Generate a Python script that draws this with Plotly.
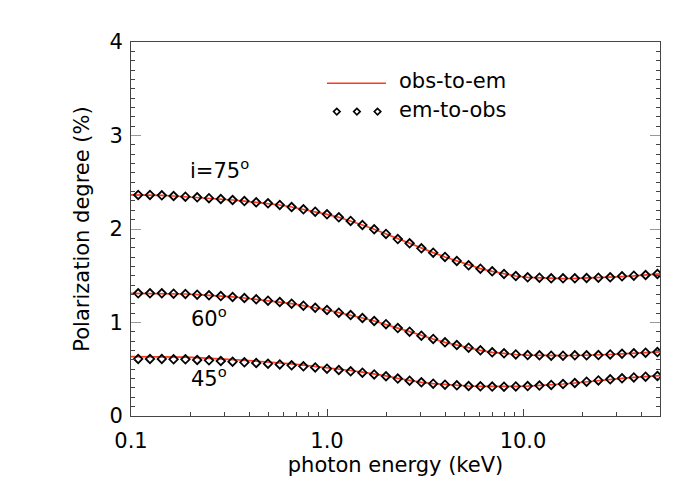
import plotly.graph_objects as go

# photon energies (keV) of the em-to-obs points
energy = [0.1088, 0.125, 0.1436, 0.1649, 0.1895, 0.2176, 0.25, 0.2872, 0.3299, 0.3789,
          0.4353, 0.5, 0.5743, 0.6598, 0.7579, 0.8706, 1.0, 1.149, 1.320, 1.516,
          1.741, 2.0, 2.297, 2.639, 3.031, 3.482, 4.0, 4.595, 5.278, 6.063,
          6.964, 8.0, 9.190, 10.56, 12.13, 13.93, 16.0, 18.38, 21.11, 24.25,
          27.86, 32.0, 36.76, 42.22, 48.50]

# em-to-obs polarization degree (%)
pd75_em = [2.364, 2.364, 2.360, 2.353, 2.346, 2.339, 2.330, 2.321, 2.310, 2.299,
           2.285, 2.275, 2.257, 2.235, 2.210, 2.185, 2.157, 2.125, 2.086, 2.043,
           1.997, 1.947, 1.892, 1.847, 1.793, 1.747, 1.701, 1.658, 1.611, 1.576,
           1.547, 1.519, 1.497, 1.483, 1.479, 1.472, 1.472, 1.472, 1.476, 1.479,
           1.483, 1.494, 1.501, 1.508, 1.519]
pd60_em = [1.312, 1.312, 1.312, 1.308, 1.305, 1.298, 1.291, 1.283, 1.273, 1.262,
           1.248, 1.233, 1.219, 1.201, 1.180, 1.158, 1.134, 1.105, 1.080, 1.048,
           1.016, 0.982, 0.940, 0.902, 0.859, 0.824, 0.788, 0.759, 0.731, 0.702,
           0.681, 0.670, 0.659, 0.652, 0.649, 0.645, 0.645, 0.649, 0.649, 0.652,
           0.659, 0.666, 0.670, 0.677, 0.684]
pd45_em = [0.610, 0.610, 0.610, 0.606, 0.606, 0.599, 0.595, 0.588, 0.581, 0.574,
           0.567, 0.560, 0.552, 0.542, 0.531, 0.520, 0.506, 0.492, 0.478, 0.463,
           0.445, 0.425, 0.400, 0.378, 0.360, 0.346, 0.335, 0.328, 0.321, 0.317,
           0.315, 0.314, 0.316, 0.320, 0.325, 0.332, 0.342, 0.353, 0.367, 0.381,
           0.392, 0.403, 0.413, 0.421, 0.428]

# obs-to-em curves (sampled on the same energies plus the axis ends)
line_energy = [0.1] + energy + [50.0]
pd75_obs = [2.364, 2.364, 2.364, 2.360, 2.353, 2.346, 2.339, 2.330, 2.321, 2.310, 2.299,
            2.285, 2.275, 2.257, 2.235, 2.210, 2.185, 2.157, 2.125, 2.086, 2.043,
            1.997, 1.947, 1.892, 1.847, 1.793, 1.747, 1.701, 1.658, 1.611, 1.576,
            1.547, 1.519, 1.497, 1.483, 1.477, 1.471, 1.470, 1.471, 1.474, 1.478,
            1.483, 1.491, 1.498, 1.506, 1.515, 1.520]
pd60_obs = [1.312, 1.312, 1.312, 1.312, 1.308, 1.305, 1.298, 1.291, 1.283, 1.273, 1.262,
            1.248, 1.233, 1.219, 1.201, 1.180, 1.158, 1.134, 1.105, 1.080, 1.048,
            1.016, 0.982, 0.940, 0.902, 0.859, 0.824, 0.788, 0.759, 0.731, 0.702,
            0.681, 0.668, 0.658, 0.651, 0.647, 0.645, 0.645, 0.647, 0.649, 0.652,
            0.658, 0.664, 0.670, 0.677, 0.683, 0.686]
pd45_obs = [0.636, 0.636, 0.635, 0.634, 0.631, 0.630, 0.624, 0.619, 0.611, 0.603, 0.596,
            0.588, 0.578, 0.569, 0.558, 0.545, 0.532, 0.517, 0.502, 0.487, 0.469,
            0.451, 0.429, 0.403, 0.378, 0.360, 0.346, 0.335, 0.328, 0.321, 0.317,
            0.315, 0.314, 0.316, 0.320, 0.325, 0.332, 0.342, 0.353, 0.367, 0.381,
            0.392, 0.403, 0.413, 0.421, 0.428, 0.432]

y_ticks = [0, 1, 2, 3, 4]
x_ticks = [0.1, 1.0, 10.0]
x_tick_text = ["0.1", "1.0", "10.0"]

RED = "#ff3a1c"
FONT = "DejaVu Sans, Liberation Sans, Arial, sans-serif"

fig = go.Figure()
for ys in (pd75_obs, pd60_obs, pd45_obs):
    fig.add_trace(go.Scatter(x=line_energy, y=ys, mode="lines",
                             line=dict(color=RED, width=1.7), showlegend=False))
for ys in (pd75_em, pd60_em, pd45_em):
    fig.add_trace(go.Scatter(x=energy, y=ys, mode="markers",
                             marker=dict(symbol="diamond-open", size=6.5, color="black",
                                         line=dict(color="black", width=1.8)),
                             showlegend=False))

# legend glyphs on an overlay axis (0..1 box coordinates)
fig.add_trace(go.Scatter(x=[0.3705, 0.482], y=[0.8896, 0.8896], mode="lines",
                         line=dict(color=RED, width=1.6), xaxis="x2", yaxis="y2",
                         showlegend=False))
fig.add_trace(go.Scatter(x=[0.389, 0.427, 0.466], y=[0.814, 0.814, 0.814], mode="markers",
                         marker=dict(symbol="diamond-open", size=5, color="black",
                                     line=dict(color="black", width=1.6)),
                         xaxis="x2", yaxis="y2", showlegend=False))

axis_col = "#444444"
fig.update_layout(
    width=700, height=500,
    margin=dict(l=131, r=40, t=42, b=84),
    paper_bgcolor="white", plot_bgcolor="white",
    font=dict(family=FONT, size=21, color="black"),
    xaxis=dict(type="log", range=[-1, 1.69897], tickvals=x_ticks, ticktext=x_tick_text,
               ticks="inside", ticklen=7, tickcolor=axis_col, tickwidth=1,
               showline=True, linecolor=axis_col, linewidth=1, mirror=True,
               showgrid=False, zeroline=False, ticklabelstandoff=6,
               minor=dict(ticks="inside", ticklen=4, tickcolor=axis_col, dtick="D1",
                          showgrid=False),
               title=dict(text="photon energy (keV)", font=dict(size=21), standoff=5),
               tickfont=dict(size=21)),
    yaxis=dict(range=[0, 4], tickvals=y_ticks, ticks="inside", ticklen=10,
               tickcolor="#999999", tickwidth=1,
               showline=True, linecolor=axis_col, linewidth=1, mirror="ticks",
               showgrid=False, zeroline=False, ticklabelstandoff=3,
               minor=dict(ticks="inside", ticklen=4, tickcolor=axis_col, dtick=0.1,
                          showgrid=False),
               title=dict(text="Polarization degree (%)", font=dict(size=21), standoff=14),
               tickfont=dict(size=21)),
    xaxis2=dict(overlaying="x", range=[0, 1], visible=False),
    yaxis2=dict(overlaying="y", range=[0, 1], visible=False),
)

annos = [
    dict(x=0.107, y=0.66, text="i=75<sup>o</sup>"),
    dict(x=0.11, y=0.265, text="60<sup>o</sup>"),
    dict(x=0.11, y=0.103, text="45<sup>o</sup>"),
    dict(x=0.503, y=0.896, text="obs-to-em"),
    dict(x=0.503, y=0.818, text="em-to-obs"),
]
for a in annos:
    fig.add_annotation(xref="paper", yref="paper", x=a["x"], y=a["y"], text=a["text"],
                       showarrow=False, xanchor="left", yanchor="middle",
                       font=dict(family=FONT, size=21, color="black"))

fig.write_html("out.html", config={"displayModeBar": False},
               post_script="document.body.style.margin='0';document.body.style.padding='0';")
